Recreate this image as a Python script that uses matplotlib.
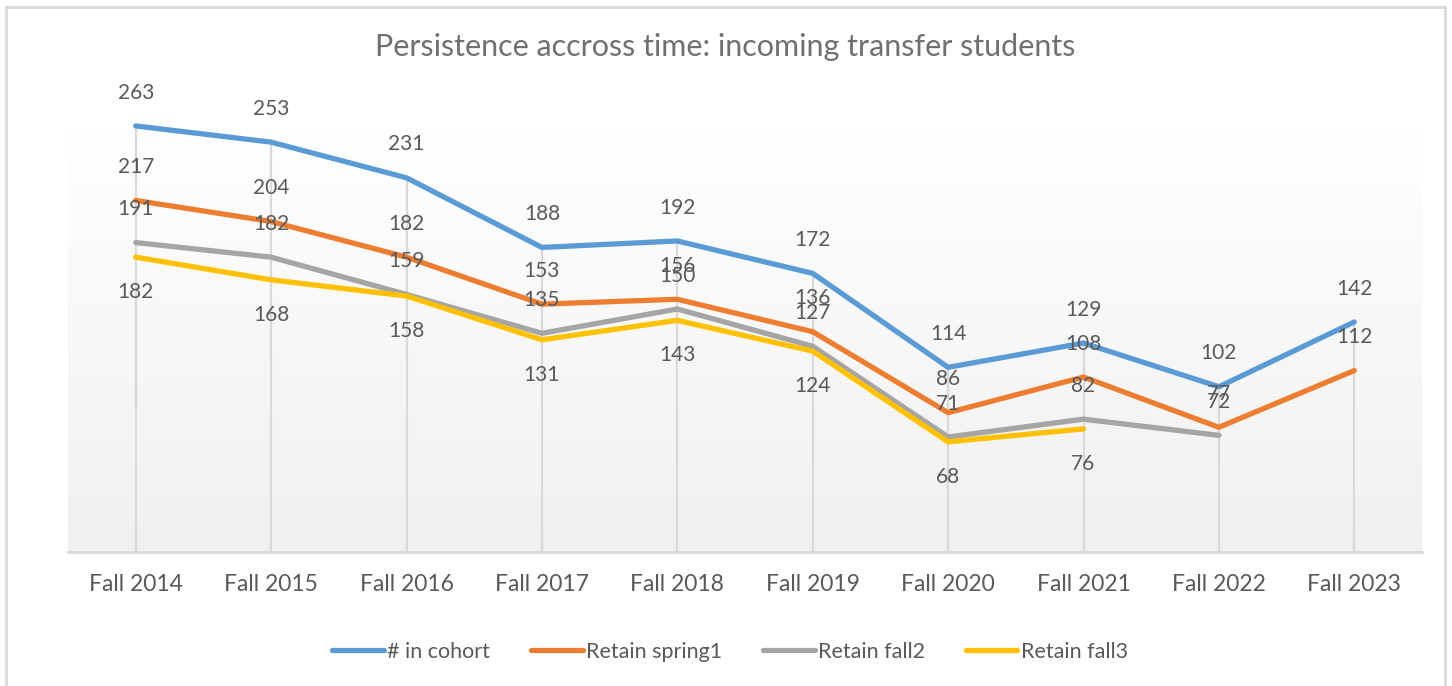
import numpy as np
import matplotlib
matplotlib.use("Agg")
import matplotlib.pyplot as plt
from matplotlib.lines import Line2D

plt.rcParams['font.family'] = ['Lato', 'DejaVu Sans']

categories = ["Fall 2014", "Fall 2015", "Fall 2016", "Fall 2017", "Fall 2018",
              "Fall 2019", "Fall 2020", "Fall 2021", "Fall 2022", "Fall 2023"]
cohort = [263, 253, 231, 188, 192, 172, 114, 129, 102, 142]
spring1 = [217, 204, 182, 153, 156, 136, 86, 108, 77, 112]
fall2 = [191, 182, 159, 135, 150, 127, 71, 82, 72, None]
fall3 = [182, 168, 158, 131, 143, 124, 68, 76, None, None]

series = [
    ("# in cohort", cohort, "#5B9BD5", "above"),
    ("Retain spring1", spring1, "#ED7D31", "above"),
    ("Retain fall2", fall2, "#A5A5A5", "above"),
    ("Retain fall3", fall3, "#FFC000", "below"),
]

W, H = 1452, 686
fig = plt.figure(figsize=(W / 100, H / 100), dpi=100)
ax = fig.add_axes([68 / W, (H - 552) / H, (1422 - 68) / W, (552 - 128) / H])

x = np.arange(len(categories))
ymax = (552 - 128) / 1.62
ax.set_xlim(-0.5, len(categories) - 0.5)
ax.set_ylim(0, ymax)

# gradient background
grad = np.linspace(1.0, 0.0, 256).reshape(-1, 1)
top = np.array([1.0, 1.0, 1.0])
bot = np.array([0xf0, 0xf0, 0xf0]) / 255
img = top[None, None, :] * grad[:, :, None] + bot[None, None, :] * (1 - grad[:, :, None])
ax.imshow(img, extent=[-0.5, len(categories) - 0.5, 0, ymax], aspect='auto', zorder=0)

# drop lines
for i in range(len(categories)):
    vals = [s[1][i] for s in series if s[1][i] is not None]
    ax.plot([x[i], x[i]], [0, max(vals)], color="#d9d9d9", lw=1.6, zorder=1)

for name, vals, color, pos in series:
    xs = [xi for xi, v in zip(x, vals) if v is not None]
    ys = [v for v in vals if v is not None]
    ax.plot(xs, ys, color=color, lw=3.8, solid_capstyle='round',
            solid_joinstyle='round', label=name, zorder=3, clip_on=False)
    for xi, yi in zip(xs, ys):
        off = 24 if pos == "above" else -25
        ax.annotate(str(yi), (xi, yi), xytext=(0, off), textcoords='offset points',
                    ha='center', va='center', fontsize=15, color="#595959",
                    zorder=5, annotation_clip=False)

for sp in ["top", "right", "left"]:
    ax.spines[sp].set_visible(False)
ax.spines["bottom"].set_color("#d9d9d9")
ax.spines["bottom"].set_linewidth(2)
ax.spines["bottom"].set_zorder(2)
ax.set_yticks([])
ax.set_xticks(x)
ax.set_xticklabels(categories, fontsize=16.5, color="#595959")
ax.tick_params(axis='x', length=0, pad=16)

fig.text(725 / W, 1 - 47 / H, "Persistence accross time: incoming transfer students",
         ha='center', va='center', fontsize=22, color="#707070")

handles = [Line2D([0], [0], color=c, lw=3.8, solid_capstyle='round') for _, _, c, _ in series]
labels = [n for n, _, _, _ in series]
fig.legend(handles, labels, loc='center', bbox_to_anchor=(730 / W, 1 - 652 / H), ncol=4,
           frameon=False, fontsize=15.5, handlelength=2.4, handletextpad=0.15,
           columnspacing=1.9, labelcolor="#595959")

# outer border (left, top, right)
bc = "#d9d9d9"
fig.add_artist(Line2D([6 / W, 6 / W], [0, 1 - 7 / H], color=bc, lw=2, transform=fig.transFigure))
fig.add_artist(Line2D([6 / W, 1445 / W], [1 - 7 / H, 1 - 7 / H], color=bc, lw=2, transform=fig.transFigure))
fig.add_artist(Line2D([1445 / W, 1445 / W], [0, 1 - 7 / H], color=bc, lw=2, transform=fig.transFigure))

fig.savefig("out.png", dpi=100, facecolor="white")
